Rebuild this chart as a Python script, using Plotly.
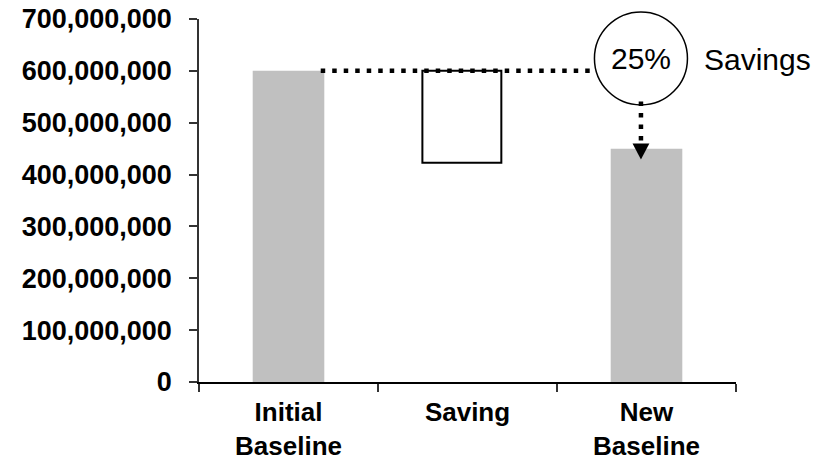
import plotly.graph_objects as go

# Values (in dollars)
categories = ["Initial<br>Baseline", "Saving", "New<br>Baseline"]
initial_baseline = 600_000_000
new_baseline = 450_000_000
saving_low = 423_000_000
savings_label = "25%"
y_tick_values = [0, 100_000_000, 200_000_000, 300_000_000, 400_000_000,
                 500_000_000, 600_000_000, 700_000_000]

GREY = "#C0C0C0"
FONT = "Liberation Sans, Arial, sans-serif"

# Callout geometry (x in category units, y in dollars)
callout_x = 1.969
callout_y = 624_000_000
shaft_top = 541_000_000
head_top = 460_000_000
head_tip = 429_000_000
head_half = 0.047

fig = go.Figure()

fig.add_bar(x=[0], y=[initial_baseline], width=0.4,
            marker=dict(color=GREY, line=dict(width=0)), hoverinfo="skip")
fig.add_bar(x=[1], base=[saving_low], y=[initial_baseline - saving_low],
            width=0.441, offset=-0.252,
            marker=dict(color="white", line=dict(color="black", width=2)),
            hoverinfo="skip")
fig.add_bar(x=[2], y=[new_baseline], width=0.4,
            marker=dict(color=GREY, line=dict(width=0)), hoverinfo="skip")

# Dotted level line from the initial baseline to the callout
fig.add_scatter(x=[0.18, callout_x], y=[initial_baseline, initial_baseline],
                mode="lines", line=dict(color="black", width=4.5, dash="4.5px,7px"),
                hoverinfo="skip")

# Callout circle
fig.add_scatter(x=[callout_x], y=[callout_y], mode="markers", cliponaxis=False,
                marker=dict(size=93, color="white",
                            line=dict(color="black", width=1.5)),
                hoverinfo="skip")

# Dotted arrow shaft down to the new baseline
fig.add_scatter(x=[callout_x, callout_x], y=[shaft_top, head_top],
                mode="lines", line=dict(color="black", width=4.5, dash="4.5px,7px"),
                hoverinfo="skip")

fig.add_shape(type="path", xref="x", yref="y", layer="above",
              path=(f"M {callout_x - head_half},{head_top} "
                    f"L {callout_x + head_half},{head_top} "
                    f"L {callout_x},{head_tip} Z"),
              fillcolor="black", line=dict(width=0))

fig.add_annotation(x=callout_x, y=callout_y, text=savings_label, showarrow=False,
                   xanchor="center", yanchor="middle",
                   font=dict(family=FONT, size=30, color="black"))
fig.add_annotation(x=2.3125, y=621_000_000, text="Savings", showarrow=False,
                   xanchor="left", yanchor="middle",
                   font=dict(family=FONT, size=30, color="black"))

fig.update_layout(
    template="none",
    width=831, height=460,
    margin=dict(l=199, r=95, t=19, b=78, pad=0),
    paper_bgcolor="white", plot_bgcolor="white",
    barmode="overlay",
    showlegend=False,
    xaxis=dict(
        range=[-0.5, 2.5], tickmode="array", tickvals=[0, 1, 2],
        ticktext=categories, ticks="", showgrid=False, zeroline=False,
        showline=True, linecolor="black", linewidth=1.5, automargin=False,
        tickfont=dict(family=FONT, size=26, color="black", weight="bold"),
        ticklabelstandoff=6,
        minor=dict(tickmode="array", tickvals=[-0.5, 0.5, 1.5, 2.5],
                   ticks="outside", ticklen=8, tickwidth=1.5,
                   tickcolor="#333333", showgrid=False),
    ),
    yaxis=dict(
        range=[0, 700_000_000], tickmode="array", tickvals=y_tick_values,
        tickformat=",.0f", ticks="outside", ticklen=8, tickwidth=1.5,
        tickcolor="#333333", showgrid=False, zeroline=False,
        showline=True, linecolor="#333333", linewidth=1.5, automargin=False,
        tickfont=dict(family=FONT, size=27, color="black", weight="bold"),
        ticklabelstandoff=12,
    ),
)

fig.write_html("out.html")
